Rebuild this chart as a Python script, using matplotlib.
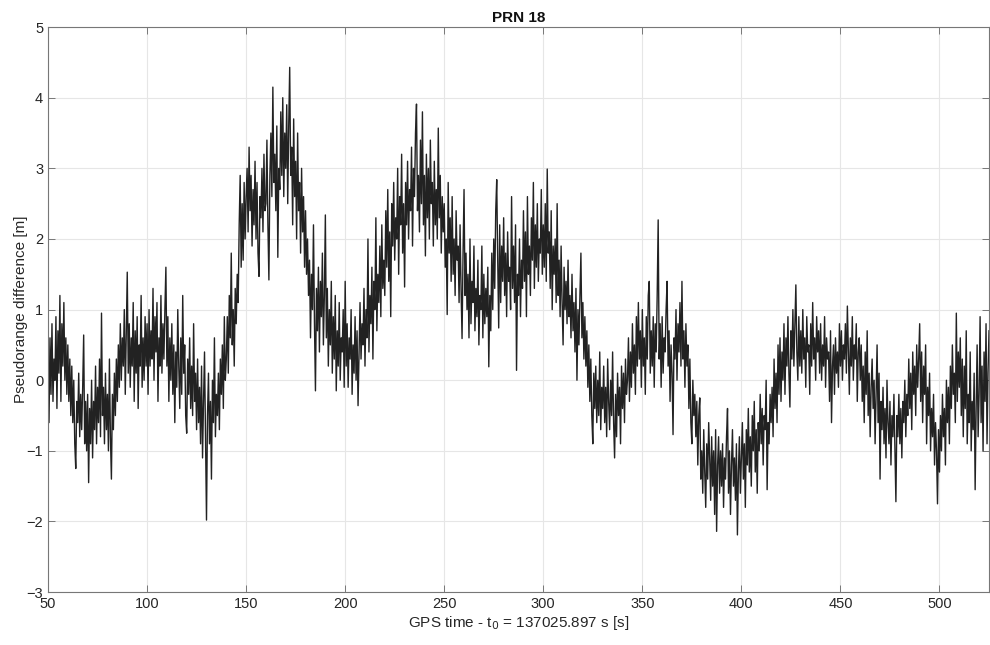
import numpy as np
import matplotlib
matplotlib.use("Agg")
import matplotlib.pyplot as plt

plt.rcParams['font.family'] = ['Liberation Sans', 'DejaVu Sans']

# GPS time relative to t0 [s], samples every 0.5 s
t_start = 50.0
dt = 0.5

# Pseudorange difference [m] (0.5 s steps, 10 s per block)
prd = [
    0.5, -0.6, 0.6, -0.2, 0.8, -0.3, 0.3, 0.0, 0.9, -0.4,            # 50
    0.7, 0.1, 1.2, -0.3, 0.8, 0.2, 1.1, 0.0, 0.6, -0.2,
    0.5, -0.3, 0.3, -0.5, 0.2, -0.6, 0.0, -0.9, -1.25, -0.3,         # 60
    -0.6, 0.1, -0.8, -0.2, -0.7, -0.1, 0.64, -0.9, -0.3, -1.0,
    -0.2, -1.45, -0.4, -0.9, 0.0, -1.1, -0.3, -0.7, 0.2, -0.9,       # 70
    -0.1, -0.6, 0.3, -0.8, 0.95, -0.5, -0.1, -0.9, 0.1, -0.7,
    -0.2, -1.0, 0.3, -0.8, -1.4, -0.2, -0.7, 0.1, -0.5, 0.3,         # 80
    -0.3, 0.5, -0.1, 0.8, 0.0, 0.6, 0.2, 1.0, -0.2, 0.7,
    1.53, 0.1, 0.8, -0.1, 0.6, 0.2, 1.1, -0.3, 0.7, 0.1,             # 90
    0.9, -0.4, 0.5, 0.2, 1.2, -0.1, 0.6, 0.0, 0.9, 0.2,
    0.8, -0.2, 1.0, 0.2, 0.7, 0.3, 1.3, 0.0, 0.9, 0.4,               # 100
    1.1, -0.3, 0.6, 0.2, 1.2, 0.1, 0.8, 0.3, 1.0, 1.6,
    0.2, 0.9, -0.3, 0.6, 0.0, 0.8, -0.2, 0.5, -0.6, 0.4,             # 110
    -0.1, 1.0, 0.2, -0.4, 0.6, -0.2, 1.2, 0.1, 0.5, -0.5,
    -0.75, 0.3, -0.2, 0.6, -0.4, 0.2, -0.5, 0.8, -0.3, 0.1,          # 120
    -0.7, 0.3, -0.6, -0.1, -0.9, 0.2, -1.1, -0.3, 0.4, -0.8,
    -1.98, -0.5, 0.1, -0.9, -0.3, -1.4, 0.0, -0.6, 0.6, -0.8,        # 130
    -0.2, -0.5, 0.1, -0.7, 0.3, -0.2, 0.5, -0.4, 0.9, 0.0,
    0.3, 0.9, 0.1, 1.2, 0.6, 1.8, 0.5, 1.0, 0.2, 1.3,                # 140
    0.8, 1.5, 1.1, 2.2, 2.9, 1.6, 2.5, 1.7, 2.8, 2.0,
    2.6, 3.0, 2.1, 3.3, 2.4, 2.9, 1.9, 2.7, 2.2, 3.1,                # 150
    2.0, 2.8, 1.8, 1.47, 2.6, 2.3, 3.0, 2.1, 3.2, 2.4,
    2.5, 3.4, 2.2, 1.42, 2.9, 3.5, 2.6, 4.15, 2.8, 3.2,              # 160
    2.4, 3.6, 1.74, 3.0, 2.7, 3.8, 2.9, 4.0, 2.6, 3.5,
    3.0, 3.9, 2.5, 3.6, 4.43, 2.9, 3.3, 2.2, 3.7, 2.6,               # 170
    3.1, 2.0, 3.5, 2.4, 2.8, 1.8, 3.0, 2.1, 2.6, 1.6,
    2.4, 1.5, 2.0, 1.2, 1.7, 0.6, 1.5, 1.0, 2.2, 0.8,                # 180
    -0.15, 1.3, 0.7, 1.6, 0.4, 1.4, 0.9, 1.8, 0.5, 1.2,
    2.34, 0.6, 1.3, 0.2, 1.0, 0.5, 1.4, 0.1, 0.9, 0.3,               # 190
    1.2, -0.15, 0.7, 0.2, 1.1, 0.0, 0.6, 0.4, 1.0, -0.1,
    1.4, 0.2, 0.8, -0.1, 0.6, 0.3, 1.0, -0.2, 0.5, 0.1,              # 200
    0.9, 0.0, 0.7, -0.36, 0.4, 1.1, 0.3, 0.8, 0.5, 1.3,
    0.2, 1.0, 0.6, 2.0, 0.4, 1.2, 0.8, 1.6, 0.3, 1.4,                # 210
    1.0, 2.3, 0.7, 1.5, 1.1, 1.9, 0.9, 2.2, 1.3, 1.7,
    1.2, 2.4, 1.6, 2.7, 1.4, 2.1, 0.9, 2.5, 1.9, 2.8,                # 220
    1.7, 2.3, 2.0, 3.0, 1.5, 2.6, 2.2, 3.2, 1.8, 2.5,
    1.32, 2.8, 2.2, 3.1, 2.0, 2.7, 2.4, 3.3, 1.9, 3.0,               # 230
    2.6, 3.5, 3.91, 2.4, 2.9, 2.1, 3.4, 2.5, 3.8, 2.2,
    2.9, 1.76, 3.2, 2.3, 3.0, 2.0, 3.4, 2.5, 2.8, 1.9,               # 240
    3.1, 2.2, 2.7, 2.0, 3.57, 2.3, 2.9, 1.8, 2.6, 2.1,
    2.5, 1.6, 2.0, 0.93, 2.8, 1.8, 2.3, 1.4, 2.6, 1.5,               # 250
    2.0, 1.2, 2.4, 1.7, 1.9, 1.1, 2.2, 1.3, 0.59, 1.8,
    2.7, 1.2, 1.8, 1.0, 1.5, 0.6, 2.0, 0.8, 1.4, 1.1,                # 260
    1.9, 0.7, 1.3, 0.9, 1.7, 0.5, 1.2, 1.0, 1.9, 0.6,
    1.5, 0.8, 1.3, 0.9, 1.6, 0.19, 1.2, 0.7, 1.8, 1.0,               # 270
    2.0, 1.3, 2.4, 2.84, 1.7, 0.74, 2.2, 1.1, 1.9, 1.4,
    2.3, 1.2, 1.8, 0.9, 2.1, 1.4, 1.6, 1.0, 2.6, 1.3,                # 280
    1.9, 1.1, 2.2, 0.14, 1.5, 1.2, 2.0, 0.9, 1.7, 1.3,
    2.4, 1.4, 2.1, 0.9, 2.6, 1.5, 1.9, 1.2, 2.3, 1.7,                # 290
    2.8, 1.3, 2.2, 1.6, 2.5, 1.4, 2.0, 1.8, 2.7, 1.5,
    2.2, 1.6, 2.5, 1.4, 2.99, 1.8, 2.1, 1.3, 2.4, 1.0,               # 300
    1.9, 1.5, 2.0, 1.1, 2.5, 1.2, 1.7, 0.9, 1.9, 1.1,
    0.5, 1.6, 1.0, 1.4, 0.8, 1.7, 0.9, 1.2, 0.6, 1.5,                # 310
    0.7, 1.1, 0.4, 1.3, 0.0, 1.0, 0.5, 1.2, 1.8, 0.6,
    1.1, 0.3, 0.9, 0.2, 0.7, -0.1, 0.5, -0.3, 0.3, -0.5,             # 320
    -0.9, 0.1, -0.4, 0.2, -0.6, 0.0, -0.5, 0.4, -0.7, -0.1,
    -0.4, 0.2, -0.6, -0.1, -0.8, 0.3, -0.3, -0.7, 0.0, -0.5,         # 330
    0.4, -0.6, -1.1, -0.2, -0.8, 0.1, -0.5, -0.1, -0.9, 0.2,
    -0.4, 0.1, -0.6, 0.3, -0.2, 0.0, 0.6, -0.3, 0.4, -0.1,           # 340
    0.8, 0.1, 0.5, -0.2, 0.9, 0.2, 1.1, 0.3, 0.7, -0.1,
    1.0, 0.2, 0.6, -0.2, 0.9, 0.3, 1.2, 1.4, 0.1, 0.7,               # 350
    0.2, 0.9, -0.1, 0.8, 0.4, 1.2, 2.27, 0.3, 0.8, -0.1,
    0.9, 0.1, 0.6, 0.4, 1.0, 1.4, 0.2, 0.7, -0.3, 0.5,               # 360
    0.1, -0.77, 0.6, 0.3, 1.0, 0.0, 0.8, 0.4, 1.1, 0.2,
    1.4, 0.3, 0.7, -0.1, 0.8, 0.2, 0.5, -0.4, 0.3, -0.6,             # 370
    -0.9, 0.0, -0.5, -0.2, -0.8, -0.3, -1.2, -0.5, -0.25, -1.4,
    -1.0, -1.6, -0.7, -1.3, -1.8, -0.9, -1.4, -0.6, -1.1, -1.7,      # 380
    -0.8, -1.5, -1.0, -1.9, -0.7, -2.14, -1.2, -0.8, -1.6, -1.0,
    -1.5, -0.9, -1.8, -1.1, -1.4, -0.8, -0.4, -1.6, -1.0, -1.9,      # 390
    -1.2, -0.7, -1.5, -1.1, -1.7, -0.9, -2.19, -1.3, -0.8, -1.6,
    -1.1, -0.6, -1.4, -0.9, -1.8, -0.7, -1.2, -0.4, -1.3, -0.8,      # 400
    -1.5, -0.5, -1.0, -0.3, -1.3, -0.7, -1.6, -0.6, -1.0, -0.2,
    -0.9, -0.4, -1.2, -0.5, -0.7, 0.0, -1.55, -0.6, -0.9, -0.2,      # 410
    -0.6, -0.1, -0.8, 0.3, -0.4, 0.1, -0.6, 0.5, -0.2, 0.6,
    -0.3, 0.4, 0.0, 0.8, -0.2, 0.6, 0.2, 0.9, 0.1, -0.38,            # 420
    0.7, 0.3, 1.0, 0.2, 0.8, 1.35, 0.4, 0.0, 0.9, 0.2,
    0.7, 0.1, 1.0, 0.3, 0.6, -0.1, 0.9, 0.4, 0.5, -0.2,              # 430
    0.8, 0.2, 1.1, 0.3, 0.6, 0.0, 0.9, 0.4, 0.7, 0.1,
    0.8, 0.0, 0.5, 0.2, 0.9, -0.1, 0.6, 0.3, 0.4, -0.3,              # 440
    0.7, -0.6, 0.2, 0.5, -0.2, 0.6, 0.1, 0.4, -0.1, 0.8,
    0.2, 0.7, 0.0, 0.5, 0.3, 0.8, 0.1, 1.05, 0.4, -0.2,              # 450
    0.6, 0.2, 0.9, 0.0, 0.5, 0.3, 0.8, -0.3, 0.4, 0.6,
    0.0, 0.5, -0.3, 0.2, -0.6, 0.4, -0.2, 0.7, -0.5, 0.1,            # 460
    -0.8, -0.1, 0.3, -0.4, 0.0, -0.9, -0.2, 0.5, -0.6, 0.1,
    -1.4, -0.3, -0.7, -0.1, -0.9, -0.4, -1.1, 0.0, -0.6, -0.9,       # 470
    -0.3, -1.2, -0.5, -0.8, -0.2, -1.0, -1.72, -0.5, -0.8, -0.2,
    -0.9, -0.4, -1.1, -0.3, -0.6, 0.0, -0.8, -0.2, -0.5, 0.3,        # 480
    -0.4, 0.1, -0.7, 0.4, -0.2, 0.2, -0.5, 0.5, -0.1, 0.3,
    0.8, -0.3, 0.4, -0.6, 0.2, -0.2, 0.5, -0.9, -0.1, -0.5,          # 490
    0.1, -1.0, -0.4, -0.8, -0.2, -1.2, -0.6, -1.0, -1.75, -0.7,
    -1.3, -0.5, -1.0, -0.2, -0.8, -0.4, -1.2, 0.0, -0.6, -0.1,       # 500
    -0.9, 0.2, -0.4, 0.5, -0.2, 0.1, -0.6, 0.95, -0.3, 0.4,
    -0.1, 0.6, -0.5, 0.3, -0.8, 0.2, -0.4, 0.7, -0.9, -0.2,          # 510
    -0.6, 0.4, -1.0, -0.3, -0.7, 0.1, -1.55, -0.4, 0.5, -0.8,
    -0.2, 0.9, -0.6, 0.2, -1.0, 0.4, -0.3, 0.8, -0.9, 0.1,           # 520
    0.7,
]
t = t_start + dt * np.arange(len(prd))

x_ticks = [50, 100, 150, 200, 250, 300, 350, 400, 450, 500]
y_ticks = [-3, -2, -1, 0, 1, 2, 3, 4, 5]

title = "PRN 18"
xlabel = "GPS time - t$_0$ = 137025.897 s [s]"
ylabel = "Pseudorange difference [m]"

fig = plt.figure(figsize=(9.9, 6.45), dpi=100)
ax = fig.add_axes([0.0485, 0.082, 0.9505, 0.876])

ax.plot(t, prd, color='#222222', lw=1.0)

ax.set_xlim(50, 525)
ax.set_ylim(-3, 5)
ax.set_xticks(x_ticks)
ax.set_yticks(y_ticks)

axc = '#262626'
ax.grid(True, color='#e6e6e6', lw=0.8)
ax.set_axisbelow(True)
for s in ax.spines.values():
    s.set_color('#777777')
    s.set_linewidth(0.8)
ax.tick_params(direction='in', length=5, width=0.6, colors='#666666',
               labelcolor=axc, labelsize=10.5, top=True, right=True)

ax.set_title(title, fontsize=11, fontweight='bold', color='#111111', pad=4)
ax.set_xlabel(xlabel, fontsize=11, color=axc, labelpad=2)
ax.set_ylabel(ylabel, fontsize=11, color=axc, labelpad=-1)

fig.savefig("out.png", dpi=100)
